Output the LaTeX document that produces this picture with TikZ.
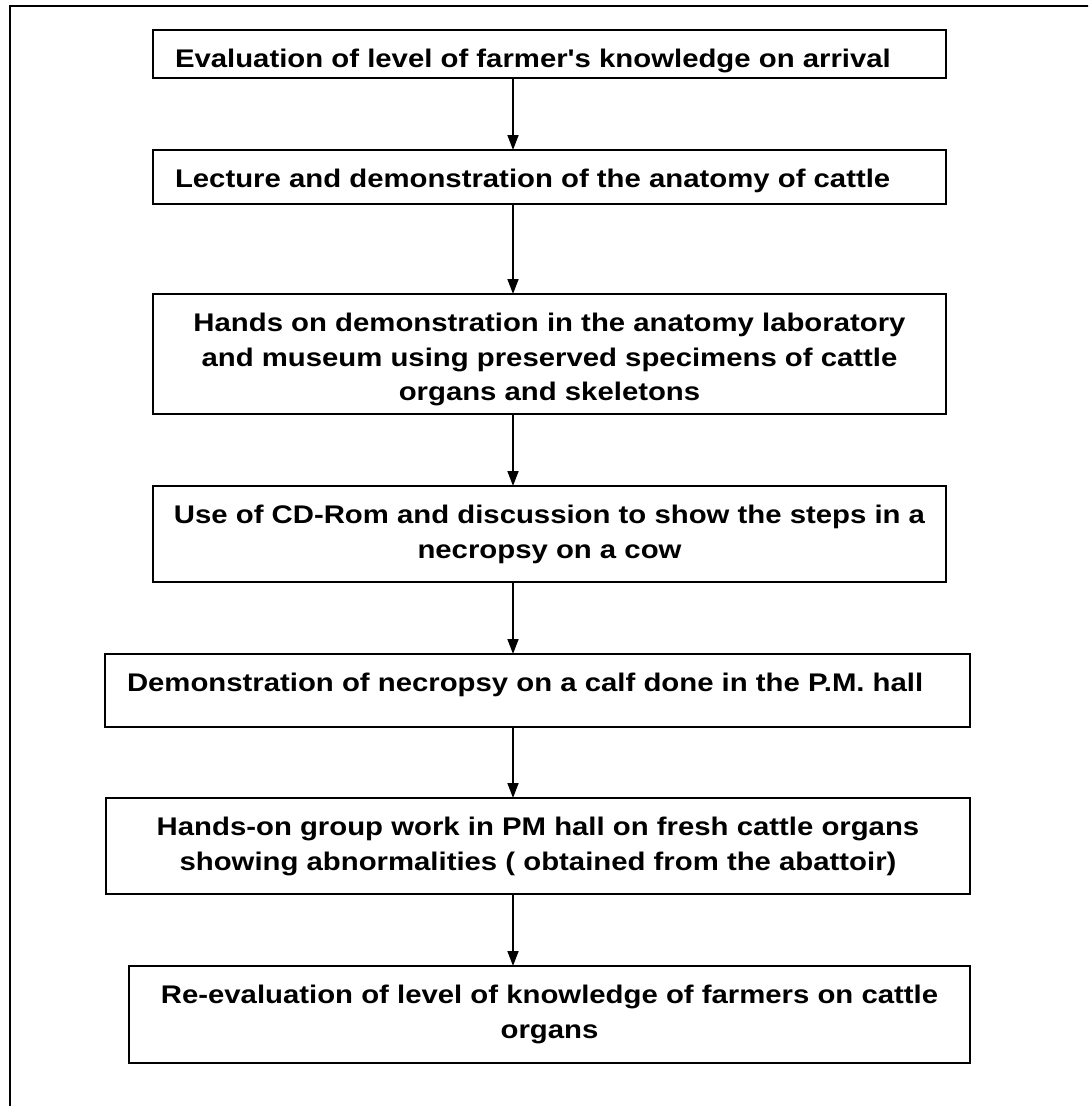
\documentclass[tikz,border=0pt]{standalone}
\usepackage{fontspec}
\setmainfont{Liberation Sans}[FakeStretch=1.15,Ligatures=TeXOff]
\usetikzlibrary{arrows.meta}

% text block of a given width and height, set from the top
\newcommand{\stepcentred}[3]{\parbox[c][#2][t]{#1}{\vspace*{17.5pt}\centering\rule{0pt}{20pt}#3}}
\newcommand{\stepleft}[3]{\parbox[c][#2][t]{#1}{\vspace*{17.5pt}\raggedright\leftskip=22pt\rule{0pt}{20pt}#3}}

\begin{document}
\begin{tikzpicture}[x=1pt,y=-1pt,
  stepbox/.style={draw, line width=1.6pt, inner sep=0pt, outer sep=0pt, anchor=north west,
    font=\fontsize{25.5}{34.5}\selectfont\bfseries},
  flow/.style={line width=1.6pt, -{Triangle[length=15pt,width=11pt]}}]
\useasboundingbox (0,0) rectangle (1088,1106);
\clip (0,0) rectangle (1088,1106);

% page frame (runs past the right and bottom edges)
\draw[line width=2pt] (10,6) rectangle (1100,1120);

\coordinate (ax) at (513,0);

\node[stepbox] (s1) at (153,30) {\stepleft{793pt}{48pt}{Evaluation of level of farmer's knowledge on arrival}};
\node[stepbox] (s2) at (153,150) {\stepleft{793pt}{54pt}{Lecture and demonstration of the anatomy of cattle}};
\node[stepbox] (s3) at (153,294) {\stepcentred{793pt}{120pt}{Hands on demonstration in the anatomy laboratory\\ and museum using preserved specimens of cattle\\ organs and skeletons}};
\node[stepbox] (s4) at (153,486) {\stepcentred{793pt}{96pt}{Use of CD-Rom and discussion to show the steps in a\\ necropsy on a cow}};
\node[stepbox] (s5) at (105,654) {\stepleft{865pt}{73pt}{Demonstration of necropsy on a calf done in the P.M. hall}};
\node[stepbox] (s6) at (106,798) {\stepcentred{864pt}{96pt}{Hands-on group work in PM hall on fresh cattle organs\\ showing abnormalities ( obtained from the abattoir)}};
\node[stepbox] (s7) at (129,966) {\stepcentred{841pt}{97pt}{Re-evaluation of level of knowledge of farmers on cattle\\ organs}};

\draw[flow] (s1.south -| ax) -- (s2.north -| ax);
\draw[flow] (s2.south -| ax) -- (s3.north -| ax);
\draw[flow] (s3.south -| ax) -- (s4.north -| ax);
\draw[flow] (s4.south -| ax) -- (s5.north -| ax);
\draw[flow] (s5.south -| ax) -- (s6.north -| ax);
\draw[flow] (s6.south -| ax) -- (s7.north -| ax);
\end{tikzpicture}
\end{document}
